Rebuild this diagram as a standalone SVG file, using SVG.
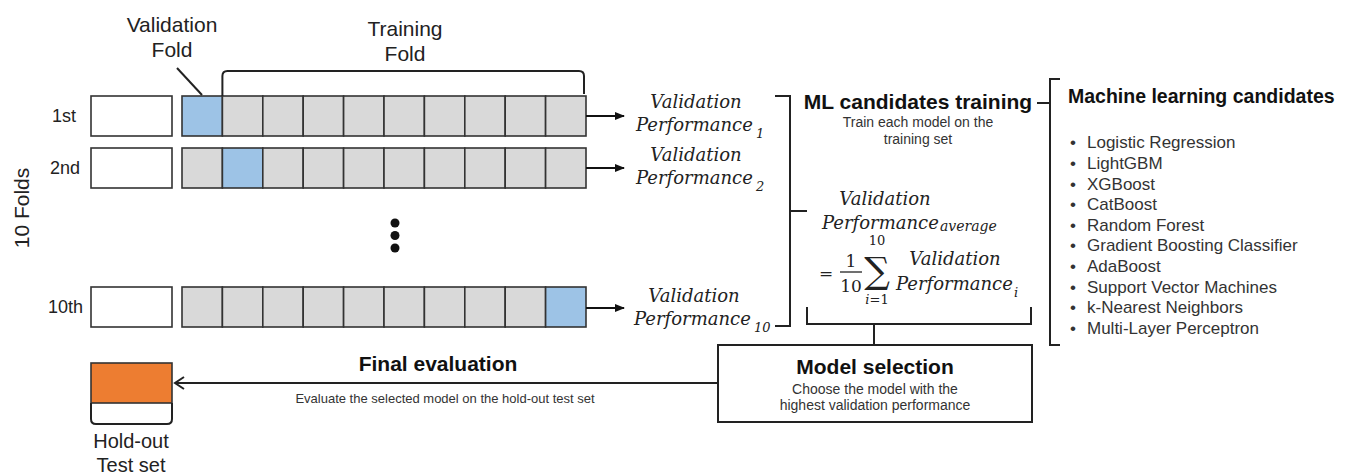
<svg xmlns="http://www.w3.org/2000/svg" width="1351" height="474" viewBox="0 0 1351 474">
<defs>
<style>
.sans{font-family:"Liberation Sans",Arial,sans-serif;}
.lbl{font-family:"Liberation Sans",Arial,sans-serif;font-size:21px;fill:#222;}
.row{font-family:"Liberation Sans",Arial,sans-serif;font-size:18px;fill:#222;}
.bold{font-family:"Liberation Sans",Arial,sans-serif;font-size:21px;font-weight:bold;fill:#111;}
.small{font-family:"Liberation Sans",Arial,sans-serif;font-size:14px;fill:#333;}
.list{font-family:"Liberation Sans",Arial,sans-serif;font-size:17px;fill:#333;}
.math{font-family:"DejaVu Serif",serif;font-style:italic;font-size:18px;fill:#222;}
.sub{font-family:"DejaVu Serif",serif;font-style:italic;font-size:13px;fill:#222;}
.up{font-family:"DejaVu Serif",serif;font-size:17px;fill:#222;}
.cell{fill:#d9d9d9;stroke:#333;stroke-width:1.6;}
.val{fill:#9dc3e6;stroke:#333;stroke-width:1.6;}
.blank{fill:#fff;stroke:#333;stroke-width:1.6;}
.ln{fill:none;stroke:#222;stroke-width:2;}
</style>
<marker id="ah" viewBox="0 0 10 10" refX="9" refY="5" markerWidth="10" markerHeight="10" markerUnits="userSpaceOnUse" orient="auto">
<path d="M0,1 L10,5 L0,9 Z" fill="#111"/>
</marker>
</defs>
<rect width="1351" height="474" fill="#fff"/>

<g id="folds-label">
<text class="lbl" transform="translate(29,208) rotate(-90)" text-anchor="middle">10 Folds</text>
</g>

<g id="validation-fold-label">
<text class="lbl" x="172" y="32" text-anchor="middle">Validation</text>
<text class="lbl" x="172" y="57" text-anchor="middle">Fold</text>
</g>
<g id="training-fold-label">
<text class="lbl" x="405" y="36" text-anchor="middle">Training</text>
<text class="lbl" x="405" y="61" text-anchor="middle">Fold</text>
</g>

<g id="fold-1">
<text class="row" x="52" y="122">1st</text>
<rect class="blank" x="91" y="96" width="81" height="40"/>
<rect class="val" x="182" y="96" width="40.4" height="40"/>
<rect class="cell" x="222.4" y="96" width="40.4" height="40"/>
<rect class="cell" x="262.8" y="96" width="40.4" height="40"/>
<rect class="cell" x="303.2" y="96" width="40.4" height="40"/>
<rect class="cell" x="343.6" y="96" width="40.4" height="40"/>
<rect class="cell" x="384" y="96" width="40.4" height="40"/>
<rect class="cell" x="424.4" y="96" width="40.4" height="40"/>
<rect class="cell" x="464.8" y="96" width="40.4" height="40"/>
<rect class="cell" x="505.2" y="96" width="40.4" height="40"/>
<rect class="cell" x="545.6" y="96" width="40.4" height="40"/>
</g>

<g id="fold-2">
<text class="row" x="50" y="174">2nd</text>
<rect class="blank" x="91" y="148" width="81" height="40"/>
<rect class="cell" x="182" y="148" width="40.4" height="40"/>
<rect class="val" x="222.4" y="148" width="40.4" height="40"/>
<rect class="cell" x="262.8" y="148" width="40.4" height="40"/>
<rect class="cell" x="303.2" y="148" width="40.4" height="40"/>
<rect class="cell" x="343.6" y="148" width="40.4" height="40"/>
<rect class="cell" x="384" y="148" width="40.4" height="40"/>
<rect class="cell" x="424.4" y="148" width="40.4" height="40"/>
<rect class="cell" x="464.8" y="148" width="40.4" height="40"/>
<rect class="cell" x="505.2" y="148" width="40.4" height="40"/>
<rect class="cell" x="545.6" y="148" width="40.4" height="40"/>
</g>

<g id="ellipsis">
<circle cx="395" cy="223" r="4.5" fill="#111"/>
<circle cx="395" cy="235.5" r="4.5" fill="#111"/>
<circle cx="395" cy="248" r="4.5" fill="#111"/>
</g>

<g id="fold-10">
<text class="row" x="48" y="313">10th</text>
<rect class="blank" x="91" y="287" width="81" height="40"/>
<rect class="cell" x="182" y="287" width="40.4" height="40"/>
<rect class="cell" x="222.4" y="287" width="40.4" height="40"/>
<rect class="cell" x="262.8" y="287" width="40.4" height="40"/>
<rect class="cell" x="303.2" y="287" width="40.4" height="40"/>
<rect class="cell" x="343.6" y="287" width="40.4" height="40"/>
<rect class="cell" x="384" y="287" width="40.4" height="40"/>
<rect class="cell" x="424.4" y="287" width="40.4" height="40"/>
<rect class="cell" x="464.8" y="287" width="40.4" height="40"/>
<rect class="cell" x="505.2" y="287" width="40.4" height="40"/>
<rect class="val" x="545.6" y="287" width="40.4" height="40"/>
</g>

<g id="vp-1">
<text class="math" x="696" y="108" text-anchor="middle">Validation</text>
<text class="math" x="636" y="131">Performance</text>
<text class="sub" x="756" y="138">1</text>
</g>
<g id="vp-2">
<text class="math" x="696" y="161" text-anchor="middle">Validation</text>
<text class="math" x="636" y="184">Performance</text>
<text class="sub" x="756" y="191">2</text>
</g>
<g id="vp-10">
<text class="math" x="694" y="302" text-anchor="middle">Validation</text>
<text class="math" x="634" y="325">Performance</text>
<text class="sub" x="754" y="332">10</text>
</g>

<g id="ml-training">
<text class="bold" x="918" y="109" text-anchor="middle">ML candidates training</text>
<text class="small" x="918" y="127" text-anchor="middle">Train each model on the</text>
<text class="small" x="918" y="144" text-anchor="middle">training set</text>
</g>

<g id="vp-average">
<text class="math" x="885" y="205" text-anchor="middle">Validation</text>
<text class="math" x="822" y="229">Performance</text>
<text class="sub" x="940" y="231" style="font-size:14px">average</text>
<text class="up" x="819" y="279">=</text>
<text class="up" x="851" y="267" text-anchor="middle">1</text>
<line x1="840" y1="272" x2="862" y2="272" stroke="#222" stroke-width="1.3"/>
<text class="up" x="851" y="292" text-anchor="middle">10</text>
<text class="up" x="877" y="245" text-anchor="middle" style="font-size:13px">10</text>
<text x="877" y="283" text-anchor="middle" style="font-family:'DejaVu Serif',serif;font-size:36px;fill:#222">∑</text>
<text class="sub" x="877" y="304" text-anchor="middle">i<tspan style="font-style:normal">=1</tspan></text>
<text class="math" x="955" y="265" text-anchor="middle">Validation</text>
<text class="math" x="896" y="290">Performance</text>
<text class="sub" x="1014" y="297">i</text>
</g>

<g id="ml-candidates">
<text class="bold" x="1068" y="103" style="font-size:19.5px">Machine learning candidates</text>
<g class="list">
<text x="1070" y="148">•</text><text x="1087" y="148">Logistic Regression</text>
<text x="1070" y="169">•</text><text x="1087" y="169">LightGBM</text>
<text x="1070" y="190">•</text><text x="1087" y="190">XGBoost</text>
<text x="1070" y="210">•</text><text x="1087" y="210">CatBoost</text>
<text x="1070" y="231">•</text><text x="1087" y="231">Random Forest</text>
<text x="1070" y="251">•</text><text x="1087" y="251">Gradient Boosting Classifier</text>
<text x="1070" y="272">•</text><text x="1087" y="272">AdaBoost</text>
<text x="1070" y="293">•</text><text x="1087" y="293">Support Vector Machines</text>
<text x="1070" y="313">•</text><text x="1087" y="313">k-Nearest Neighbors</text>
<text x="1070" y="334">•</text><text x="1087" y="334">Multi-Layer Perceptron</text>
</g>
</g>

<g id="model-selection">
<rect x="718" y="345" width="314" height="77" fill="#fff" stroke="#222" stroke-width="2"/>
<text class="bold" x="875" y="374" text-anchor="middle">Model selection</text>
<text class="small" x="875" y="394" text-anchor="middle">Choose the model with the</text>
<text class="small" x="875" y="410" text-anchor="middle">highest validation performance</text>
</g>

<g id="final-evaluation">
<text class="bold" x="438" y="371" text-anchor="middle">Final evaluation</text>
<text class="sans" x="445" y="403" text-anchor="middle" style="font-size:13px;fill:#333">Evaluate the selected model on the hold-out test set</text>
</g>

<g id="holdout">
<rect x="91" y="363" width="81" height="40" fill="#ed7d31" stroke="#333" stroke-width="1.6"/>
<path class="ln" d="M91,403 V419 Q91,424 96,424 H167 Q172,424 172,419 V403"/>
<text class="lbl" x="131" y="448" text-anchor="middle" style="font-size:20px">Hold-out</text>
<text class="lbl" x="131" y="472" text-anchor="middle" style="font-size:20px">Test set</text>
</g>

<g id="connectors">
<line x1="177" y1="68" x2="202" y2="95" stroke="#222" stroke-width="2"/>
<path class="ln" d="M222.4,96 V76 Q222.4,71 227.4,71 H579 Q584,71 584,76 V94"/>
<line x1="586" y1="116" x2="624" y2="116" stroke="#111" stroke-width="2" marker-end="url(#ah)"/>
<line x1="586" y1="168" x2="624" y2="168" stroke="#111" stroke-width="2" marker-end="url(#ah)"/>
<line x1="586" y1="308" x2="624" y2="308" stroke="#111" stroke-width="2" marker-end="url(#ah)"/>
<path class="ln" d="M775,96 H790 V326 H775"/>
<line x1="790" y1="211" x2="807" y2="211" stroke="#222" stroke-width="2"/>
<line x1="1037" y1="103" x2="1050" y2="103" stroke="#222" stroke-width="2"/>
<path class="ln" d="M1060,79 H1050 V345 H1060"/>
<path class="ln" d="M807,307 V324 H1031 V307"/>
<line x1="874" y1="324" x2="874" y2="345" stroke="#222" stroke-width="2"/>
<line x1="718" y1="383" x2="175" y2="383" stroke="#222" stroke-width="2"/>
<polyline class="ln" points="184,377 175,383 184,389"/>
</g>
</svg>
